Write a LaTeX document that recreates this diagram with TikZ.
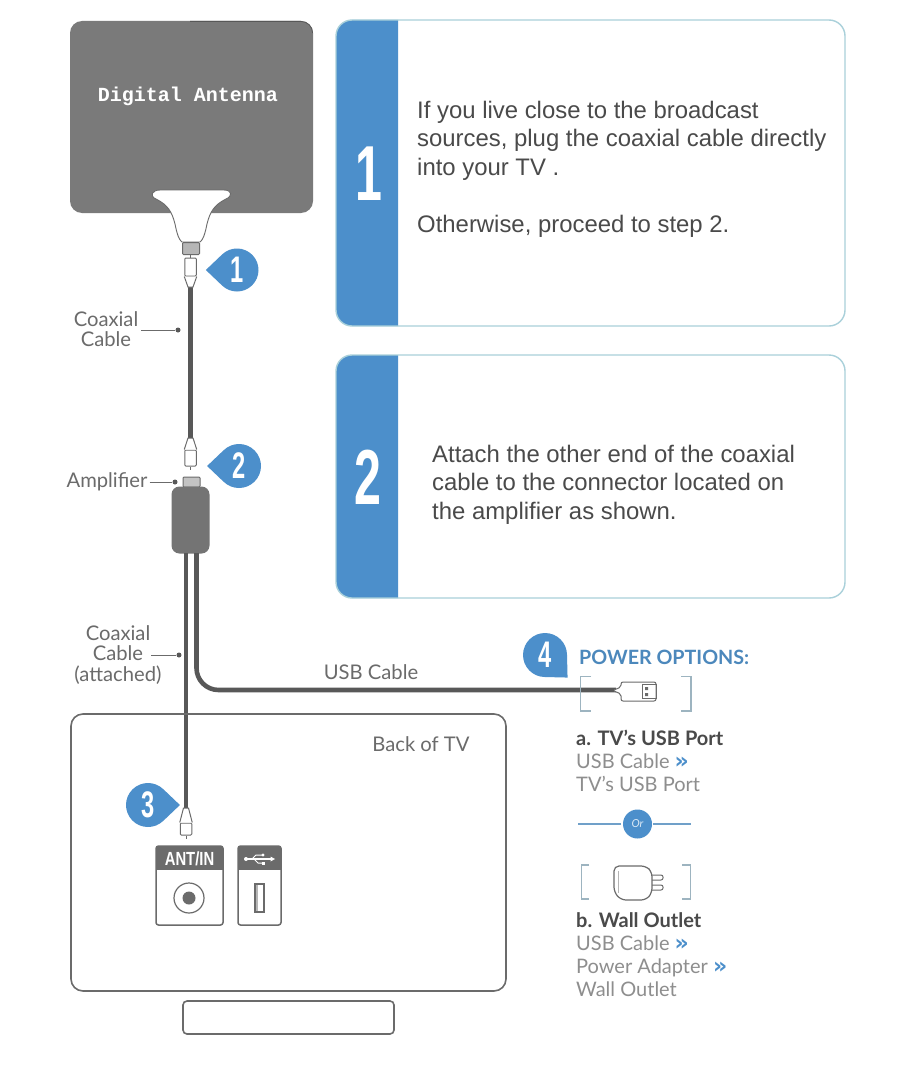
\documentclass[tikz,border=0pt]{standalone}
\usepackage{fontspec}
\setmainfont{Liberation Sans}
\newfontfamily\labelfont{Lato}
\newfontfamily\typefont{Liberation Mono}
\newfontfamily\signfont{DejaVu Sans}
\usetikzlibrary{calc}
\definecolor{stepblue}{HTML}{4C8FCB}
\definecolor{headblue}{HTML}{4C88BC}
\definecolor{panelrim}{HTML}{A9D0DA}
\definecolor{slate}{HTML}{9DB4C0}
\definecolor{inkgrey}{HTML}{6B6B6B}
\definecolor{bodygrey}{HTML}{7A7A7A}
\definecolor{cablegrey}{HTML}{585858}
\definecolor{panelink}{HTML}{4A4A4A}
\tikzset{
  panelrect/.style={draw=panelrim,line width=1.4pt,rounded corners=16pt},
  paneltext/.style={anchor=north west,align=left,inner sep=0pt,text=panelink,font=\fontsize{23.9}{28.6}\selectfont},
  bigdigit/.style={text=white,inner sep=0pt,font=\bfseries\fontsize{78}{78}\selectfont,xscale=.62},
  tagdigit/.style={text=white,inner sep=0pt,font=\bfseries\fontsize{37}{37}\selectfont,xscale=.64},
  cablepart/.style={draw=cablegrey,line width=4.6pt},
  leader/.style={draw=inkgrey,line width=.9pt},
  tick/.style={circle,fill=cablegrey,inner sep=0pt,minimum size=5pt},
  graylabel/.style={text=inkgrey,inner sep=0pt,align=center,font=\labelfont\fontsize{20.2}{20.5}\selectfont},
  optionline/.style={anchor=base west,inner sep=0pt,text=bodygrey!85,font=\labelfont\fontsize{20}{20}\selectfont},
  optionhead/.style={anchor=base west,inner sep=0pt,text=panelink,font=\labelfont\bfseries\fontsize{20}{20}\selectfont},
  outline/.style={draw=inkgrey,line width=1.6pt},
  thin outline/.style={draw=inkgrey,line width=1pt},
  bracket/.style={draw=slate,line width=1.3pt},
  fitting/.style={draw=inkgrey,fill=white,line width=1pt,rectangle,inner sep=0pt,rounded corners=1pt},
  port/.style={draw=inkgrey,fill=white,line width=1.5pt,rectangle,rounded corners=2.5pt,inner sep=0pt}
}
% numbered teardrop marker: name, centre, radius, tip direction, digit
\newcommand{\stepmark}[6]{%
  \begin{scope}[shift={(#2,#3)}]
    \fill[stepblue] (#5:#4*1.45) -- (#5+46:#4) arc[start angle=#5+46,end angle=#5+314,radius=#4] -- cycle;
    \node[tagdigit] (#1) at (0,0) {#6};
  \end{scope}}
\newcommand{\arrowsign}{\textcolor{stepblue}{\signfont\bfseries\fontsize{22}{20}\selectfont »}}
\begin{document}
\begin{tikzpicture}[x=1pt,y=-1pt]
\useasboundingbox (0,0) rectangle (900,1070);
\fill[white] (0,0) rectangle (900,1070);

% instruction panels
\begin{scope}
  \fill[stepblue] (398,20) -- (352,20) arc[start angle=-90,end angle=-180,radius=16] -- (336,310) arc[start angle=180,end angle=90,radius=16] -- (398,326) -- cycle;
  \draw[panelrect] (336,20) rectangle (845,326);
  \node[bigdigit] (numA) at (369,174) {1};
  \node[paneltext] (textA) at (417,100.5) {If you live close to the broadcast\\sources, plug the coaxial cable directly\\into your TV .\\[28.4pt]Otherwise, proceed to step 2.};
  \fill[stepblue] (398,355) -- (352,355) arc[start angle=-90,end angle=-180,radius=16] -- (336,582) arc[start angle=180,end angle=90,radius=16] -- (398,598) -- cycle;
  \draw[panelrect] (336,355) rectangle (845,598);
  \node[bigdigit] (numB) at (368,477) {2};
  \node[paneltext] (textB) at (432,444.5) {Attach the other end of the coaxial\\cable to the connector located on\\the amplifier as shown.};
\end{scope}

% antenna sheet and its T-shaped base
\fill[bodygrey] (70,33) arc[start angle=180,end angle=270,radius=12] -- (301,21) arc[start angle=-90,end angle=0,radius=12] -- (313,201) arc[start angle=0,end angle=90,radius=12] -- (82,213) arc[start angle=90,end angle=180,radius=12] -- cycle;
\draw[cablegrey,line width=.8pt] (190,21.4) -- (301,21.4) arc[start angle=-90,end angle=0,radius=11.6];
\node[text=white,inner sep=0pt,font=\typefont\bfseries\fontsize{20}{20}\selectfont] (antennaName) at (188,96) {Digital Antenna};
\draw[inkgrey,fill=white,line width=.9pt] (160,190) -- (224,190) .. controls (232,190) and (233,196) .. (226,199)
  .. controls (214,205) and (210,212) .. (207,224) .. controls (205,234) and (203,240) .. (200,242)
  -- (182,242) .. controls (179,240) and (177,234) .. (175,224) .. controls (172,212) and (168,205) .. (156,199)
  .. controls (149,196) and (152,190) .. (160,190) -- cycle;

% coaxial run from antenna to amplifier
\node[fitting,fill=bodygrey!55,minimum width=17pt,minimum height=12pt] (antennaPort) at (191,248.5) {};
\node[fitting,minimum width=11.5pt,minimum height=18pt] (plugA) at (190.5,267) {};
\node[fitting,minimum width=11.5pt,minimum height=16pt] (plugB) at (190.5,458) {};
\draw[cablepart] (190.5,286) -- (190.5,438);
\draw[thin outline,fill=white] (plugA.south west) -- (188,287) -- (193,287) -- (plugA.south east);
\draw[thin outline,fill=white] (plugB.north west) -- (188,438) -- (193,438) -- (plugB.north east);
\draw[thin outline] (plugA.north) -- +(0,-3);
\draw[thin outline] (plugB.south) -- +(0,3);

% amplifier with its two leads
\node[fitting,fill=bodygrey!45,minimum width=17pt,minimum height=10pt] (ampPort) at (191.5,482) {};
\node[rectangle,fill=bodygrey!95!black,rounded corners=8pt,minimum width=38pt,minimum height=67pt,inner sep=0pt] (amp) at (190.5,520) {};
\coordinate (ampLeft) at (186,553);
\coordinate (ampRight) at (196.5,553);
\node[fitting,minimum width=11.5pt,minimum height=12pt] (plugC) at (186,829) {};
\draw[cablepart] (ampLeft) -- (186,808);
\draw[thin outline,fill=white] (plugC.north west) -- (183.5,808) -- (188.5,808) -- (plugC.north east);
\draw[thin outline] (plugC.south) -- +(0,3);
\draw[cablepart,rounded corners=22pt] (ampRight) -- (196.5,690) -- (616,690);

% USB plug between the brackets
\draw[bracket] (591,676.5) -- (580.5,676.5) -- (580.5,711) -- (591,711);
\draw[bracket] (681,676.5) -- (691,676.5) -- (691,711) -- (681,711);
\draw[thin outline,fill=white,rounded corners=2pt] (614,690) -- (621,687) -- (621,682) -- (656,682) -- (656,701) -- (621,701) -- (621,694) -- (614,691);
\node[draw=inkgrey,line width=1pt,inner sep=0pt,minimum width=14pt,minimum height=14pt] (usbHead) at (649,691.5) {};
\fill[inkgrey] (645,687) rectangle +(3,3) (645,693) rectangle +(3,3);

% step markers
\stepmark{tagA}{237}{270}{21.5}{180}{1}
\stepmark{tagB}{239}{466}{22}{180}{2}
\stepmark{tagC}{148}{805}{22}{0}{3}
\stepmark{tagD}{545}{655}{22}{45}{4}

% call-out labels
\node[graylabel] (labelCoaxA) at (106,329) {Coaxial\\Cable};
\node[tick] (tickA) at (178,330) {};
\draw[leader] (141,330) -- (tickA);
\node[graylabel] (labelAmp) at (107,482) {Amplifier};
\node[tick] (tickB) at (175,482) {};
\draw[leader] (labelAmp.east) ++(2,0) -- (tickB);
\node[graylabel] (labelCoaxB) at (118,655) {Coaxial\\Cable\\(attached)};
\node[tick] (tickC) at (179,655) {};
\draw[leader] (151,655) -- (tickC);
\node[graylabel] (labelUsb) at (371,672) {USB Cable};

% television outline with stand
\draw[outline,rounded corners=12pt] (71,714) rectangle (506,991);
\draw[outline,rounded corners=4pt] (183,1001) rectangle (394,1034);
\node[graylabel] (labelBack) at (421,744) {Back of TV};

% antenna socket
\node[port,minimum width=67pt,minimum height=79pt] (antSocket) at (189.5,885.5) {};
\fill[inkgrey,rounded corners=1.5pt] (156,846) rectangle (223,858);
\fill[inkgrey] (156,852) rectangle (223,870);
\node[inner sep=0pt,text=white,font=\bfseries\fontsize{19}{19}\selectfont,xscale=.78] (antLabel) at (189.5,858.5) {ANT/IN};
\node[circle,draw=inkgrey,line width=1.2pt,minimum size=30pt,inner sep=0pt] (antRing) at (189,898) {};
\node[circle,fill=inkgrey,minimum size=13pt,inner sep=0pt] (antCore) at (189,898) {};

% USB socket
\node[port,minimum width=43pt,minimum height=79pt] (usbSocket) at (259.5,885.5) {};
\fill[inkgrey,rounded corners=1.5pt] (238,846) rectangle (281,858);
\fill[inkgrey] (238,852) rectangle (281,870);
\begin{scope}[white]
  \draw[line width=1.1pt] (247,859) -- (272,859);
  \fill (246,859) circle (2);
  \fill (275,859) -- (270.5,856.5) -- (270.5,861.5) -- cycle;
  \draw[line width=1pt] (252,859) -- (256,855) -- (263,855);
  \draw[line width=1pt] (254,859) -- (258,863) -- (263,863);
  \fill (263,855) circle (1.6);
  \fill (262,861.5) rectangle +(3,3);
\end{scope}
\node[draw=inkgrey,line width=1.4pt,fill=white,inner sep=0pt,minimum width=9pt,minimum height=28pt] (usbSlot) at (259.5,898) {};
\fill[inkgrey!50] (256,885) rectangle (258,911);

% power options column
\node[anchor=west,inner sep=0pt,text=headblue,font=\labelfont\bfseries\fontsize{19.7}{20}\selectfont] (powerHead) at (579,657) {POWER OPTIONS:};
\node[optionhead] (optA) at (576,745) {a. TV’s USB Port};
\node[optionline] (optA1) at (576,768) {USB Cable \arrowsign};
\node[optionline] (optA2) at (576,791) {TV’s USB Port};

% divider between the two options
\node[circle,fill=stepblue,minimum size=29pt,inner sep=0pt,text=white!80!stepblue,font=\labelfont\itshape\fontsize{11}{11}\selectfont] (orMark) at (637.5,824) {Or};
\coordinate (divL) at (578,824);
\coordinate (divR) at (691,824);
\draw[draw=headblue!80,line width=1.3pt] (divL) -- (621,824);
\draw[draw=headblue!80,line width=1.3pt] (653,824) -- (divR);

% power adapter between the brackets
\draw[bracket] (589,865) -- (581.5,865) -- (581.5,899) -- (589,899);
\draw[bracket] (682,865) -- (690.5,865) -- (690.5,899) -- (682,899);
\draw[thin outline,line width=1.2pt,rounded corners=5pt] (614,866) -- (646,866) -- (652,872) -- (652,893) -- (646,900) -- (621,900) -- (614,892) -- cycle;
\draw[thin outline,rounded corners=2pt] (652,875) -- (663,875) -- (663,880) -- (652,880);
\draw[thin outline,rounded corners=2pt] (652,885) -- (663,885) -- (663,890) -- (652,890);
\draw[inkgrey!50,line width=.8pt] (618,871) -- (618,893);

\node[optionhead] (optB) at (576,927) {b. Wall Outlet};
\node[optionline] (optB1) at (576,950) {USB Cable \arrowsign};
\node[optionline] (optB2) at (576,973) {Power Adapter \arrowsign};
\node[optionline] (optB3) at (576,996) {Wall Outlet};
\end{tikzpicture}
\end{document}
